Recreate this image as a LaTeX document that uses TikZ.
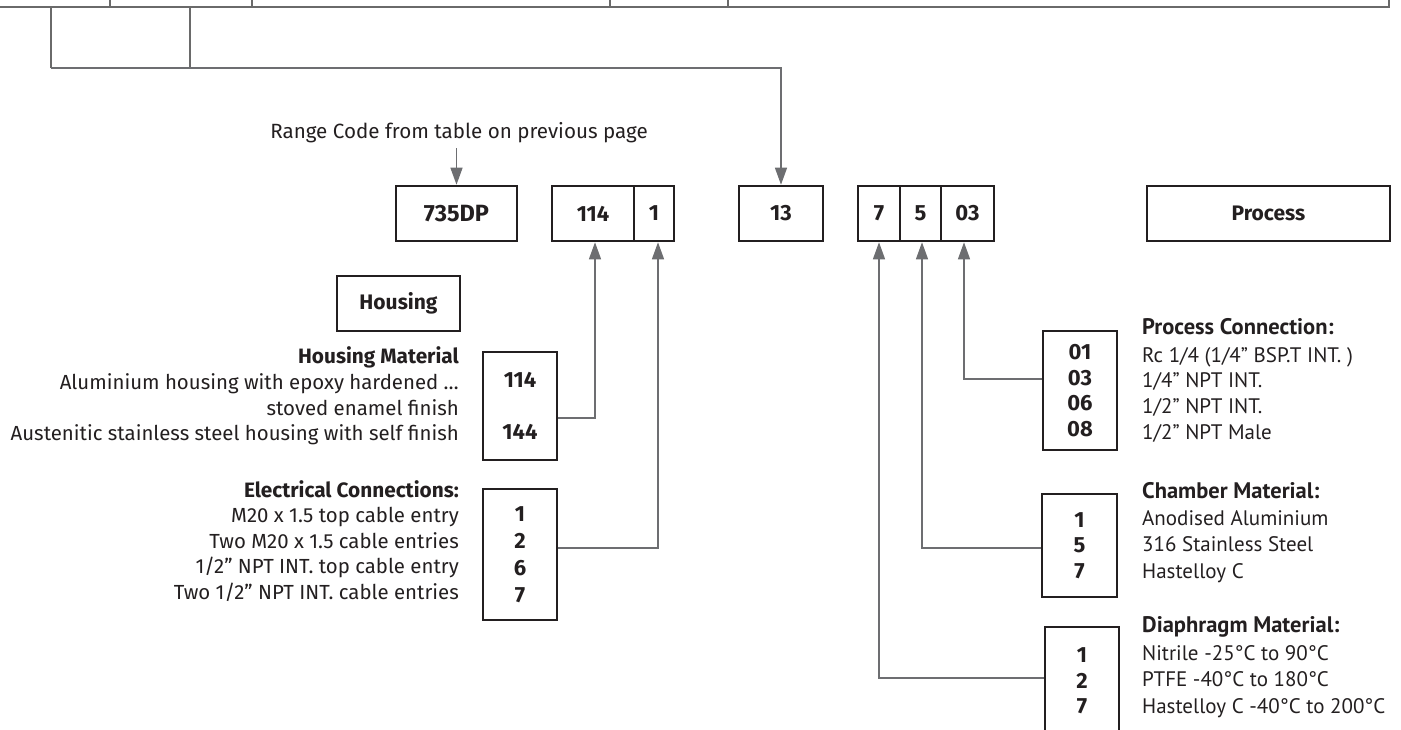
\documentclass[tikz,border=0pt]{standalone}
\usepackage{fontspec}
\setmainfont{Fira Sans}
\newfontfamily\rfont{PT Sans}
\usetikzlibrary{arrows.meta}
\definecolor{ink}{HTML}{231F20}
\definecolor{wirec}{HTML}{6D6E71}
\definecolor{tablec}{HTML}{6A6A6A}
\begin{document}
\begin{tikzpicture}[x=1pt,y=-1pt,
  box/.style={draw=ink,line width=2.6pt,inner sep=0pt,text=ink,align=center,
    font=\fontsize{22}{27}\selectfont\bfseries},
  wire/.style={draw=wirec,line width=1.4pt},
  arr/.style={wire,-{Triangle[width=12pt,length=17pt]}},
  tline/.style={draw=tablec,line width=1.6pt},
  ltext/.style={anchor=base east,inner sep=0pt,text=ink,font=\fontsize{20.4}{24}\selectfont},
  lhead/.style={ltext,font=\fontsize{20.8}{24}\selectfont\bfseries},
  rtext/.style={anchor=base west,inner sep=0pt,text=ink,font=\rfont\fontsize{21}{24}\selectfont},
  rhead/.style={rtext,font=\rfont\fontsize{22.5}{26}\selectfont\bfseries}]
\useasboundingbox (0,0) rectangle (1401,729);

% table remnant at top
\draw[tline] (0,7) -- (1389,7) -- (1389,0);
\foreach \x in {110,252,610,728} \draw[tline] (\x,0) -- (\x,7);
\coordinate (t1) at (51,7);
\coordinate (t2) at (190,7);
\coordinate (j1) at (51,68);
\coordinate (j2) at (190,68);

% code row
\node[box,minimum width=121pt,minimum height=55pt,font=\fontsize{23.5}{26}\selectfont\bfseries] (dp) at (456.5,213.5) {735DP};
\node[box,minimum width=82pt,minimum height=55pt] (hA) at (593,213.5) {114};
\node[box,minimum width=40pt,minimum height=55pt] (hB) at (654,213.5) {1};
\node[box,minimum width=84pt,minimum height=55pt] (c13) at (781,213.5) {13};
\node[box,minimum width=42pt,minimum height=55pt] (p7) at (879,213.5) {7};
\node[box,minimum width=41pt,minimum height=55pt] (p5) at (920.5,213.5) {5};
\node[box,minimum width=53pt,minimum height=55pt] (p03) at (967.5,213.5) {03};
\node[box,minimum width=243pt,minimum height=55pt,font=\fontsize{21}{26}\selectfont\bfseries] (proc) at (1268.5,213.5) {Process};

\draw[tline] (t1) -- (j1);
\draw[tline] (t2) -- (j2);
\draw[arr] (j1) -| (c13.north);

\node[inner sep=0pt,text=ink,font=\fontsize{20.6}{24}\selectfont] (rc) at (459,133) {Range Code from table on previous page};
\draw[arr] ([yshift=-5pt]rc.south -| dp.north) -- (dp.north);

% housing
\node[box,minimum width=123pt,minimum height=55pt,font=\fontsize{21}{26}\selectfont\bfseries] (hous) at (398.5,303.5) {Housing};

\node[lhead] (hm0) at (459,363) {Housing Material};
\node[ltext] (hm1) at (459,389.5) {Aluminium housing with epoxy hardened …};
\node[ltext] (hm2) at (459,415) {stoved enamel finish};
\node[ltext] (hm3) at (459,440.5) {Austenitic stainless steel housing with self finish};
\node[box,minimum width=74pt,minimum height=108pt] (hcodes) at (520,406) {114\\[25.5pt]144};

\node[lhead] (ec0) at (459,497) {Electrical Connections:};
\node[ltext] (ec1) at (459,522.5) {M20 x 1.5 top cable entry};
\node[ltext] (ec2) at (459,548) {Two M20 x 1.5 cable entries};
\node[ltext] (ec3) at (459,573.5) {1/2” NPT INT. top cable entry};
\node[ltext] (ec4) at (459,599) {Two 1/2” NPT INT. cable entries};
\node[box,minimum width=74pt,minimum height=131pt] (ecodes) at (520,554.5) {1\\2\\6\\7};

\draw[arr] ([yshift=-12pt]hcodes.east) -| ([xshift=2pt]hA.south);
\draw[arr] ([yshift=6.5pt]ecodes.east) -| ([xshift=4pt]hB.south);

% process side
\node[rhead] (pc0) at (1142,334) {Process Connection:};
\node[rtext] (pc1) at (1142,362) {Rc 1/4 (1/4” BSP.T INT. )};
\node[rtext] (pc2) at (1142,387.5) {1/4” NPT INT.};
\node[rtext] (pc3) at (1142,413) {1/2” NPT INT.};
\node[rtext] (pc4) at (1142,439) {1/2” NPT Male};
\node[box,minimum width=74pt,minimum height=119pt,font=\fontsize{22}{25.5}\selectfont\bfseries] (pcodes) at (1080,390.5) {01\\03\\06\\08};

\node[rhead] (cm0) at (1142,498) {Chamber Material:};
\node[rtext] (cm1) at (1142,525) {Anodised Aluminium};
\node[rtext] (cm2) at (1142,551.5) {316 Stainless Steel};
\node[rtext] (cm3) at (1142,578) {Hastelloy C};
\node[box,minimum width=75pt,minimum height=103pt,font=\fontsize{22}{25.5}\selectfont\bfseries] (ccodes) at (1079.5,545.5) {1\\5\\7};

\node[rhead] (dm0) at (1142,632) {Diaphragm Material:};
\node[rtext] (dm1) at (1142,660) {Nitrile -25°C to 90°C};
\node[rtext] (dm2) at (1142,686.5) {PTFE -40°C to 180°C};
\node[rtext] (dm3) at (1142,713) {Hastelloy C -40°C to 200°C};
\node[box,minimum width=74pt,minimum height=108pt,font=\fontsize{22}{25.5}\selectfont\bfseries] (dcodes) at (1082,681) {1\\2\\7};

\draw[arr] ([yshift=11.5pt]pcodes.west) -| ([xshift=-3.5pt]p03.south);
\draw[arr] ([yshift=-2.5pt]ccodes.west) -| ([xshift=1.5pt]p5.south);
\draw[arr] ([yshift=3pt]dcodes.west) -| (p7.south);
\end{tikzpicture}
\end{document}
